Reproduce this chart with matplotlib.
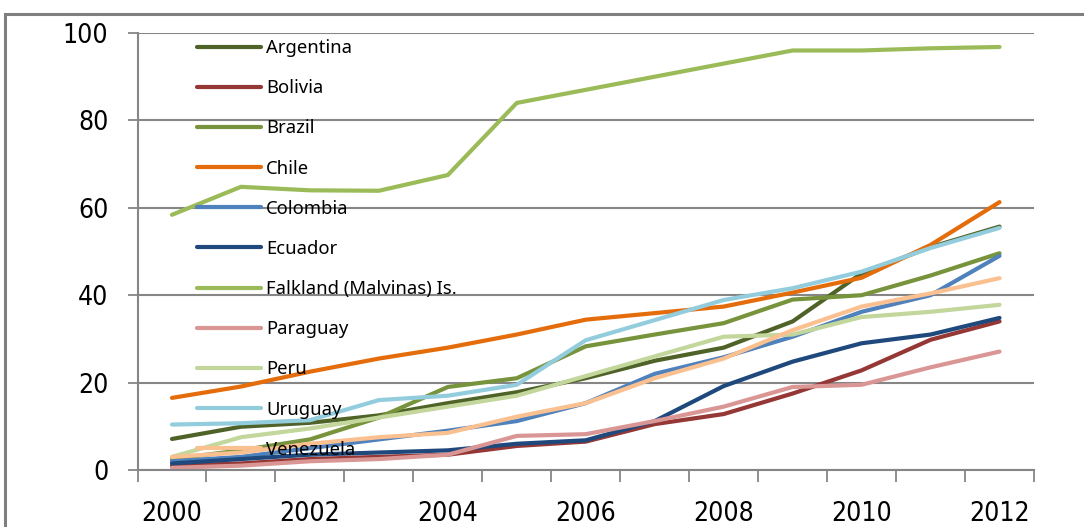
import matplotlib
matplotlib.use("Agg")
import matplotlib.pyplot as plt
import numpy as np
from matplotlib.patches import Rectangle

years = list(range(2000, 2013))

argentina = [7.1, 9.9, 10.8, 12.5, 15.3, 17.8, 21.0, 25.0, 28.0, 34.0, 45.0, 51.0, 55.7]
bolivia = [1.0, 1.5, 2.5, 3.0, 3.5, 5.5, 6.5, 10.5, 12.8, 17.5, 22.8, 29.8, 34.0]
brazil = [2.5, 4.5, 7.0, 12.0, 19.0, 21.0, 28.3, 31.0, 33.6, 39.0, 40.0, 44.5, 49.6]
chile = [16.5, 19.1, 22.5, 25.5, 28.0, 31.0, 34.4, 35.9, 37.4, 40.6, 44.0, 51.5, 61.3]
colombia = [2.0, 3.0, 5.0, 7.0, 9.0, 11.2, 15.3, 22.0, 25.8, 30.5, 36.2, 40.0, 49.0]
ecuador = [1.5, 2.5, 3.5, 4.0, 4.5, 6.0, 6.8, 11.2, 19.2, 24.8, 29.0, 31.0, 34.8]
falkland = [58.4, 64.8, 64.0, 63.9, 67.5, 84.0, 87.0, 90.0, 93.0, 96.0, 96.0, 96.5, 96.8]
paraguay = [0.5, 1.0, 2.0, 2.5, 3.5, 7.8, 8.2, 11.2, 14.5, 19.0, 19.5, 23.5, 27.1]
peru = [3.0, 7.5, 9.5, 12.0, 14.5, 17.0, 21.5, 26.0, 30.5, 31.0, 35.0, 36.2, 37.8]
uruguay = [10.4, 10.7, 11.4, 16.0, 17.0, 19.5, 29.7, 34.3, 38.9, 41.6, 45.4, 50.8, 55.4]
venezuela = [3.0, 4.0, 6.0, 7.5, 8.5, 12.2, 15.3, 21.0, 25.5, 32.0, 37.4, 40.4, 43.9]

series = [
    ("Argentina", argentina, "#4F6228"),
    ("Bolivia", bolivia, "#953735"),
    ("Brazil", brazil, "#77933C"),
    ("Chile", chile, "#E46C0A"),
    ("Colombia", colombia, "#4F81BD"),
    ("Ecuador", ecuador, "#1F497D"),
    ("Falkland (Malvinas) Is.", falkland, "#9BBB59"),
    ("Paraguay", paraguay, "#D99694"),
    ("Peru", peru, "#C3D69B"),
    ("Uruguay", uruguay, "#93CDDD"),
    ("Venezuela", venezuela, "#FAC090"),
]

W, H = 1084, 527
fig = plt.figure(figsize=(W / 100, H / 100), dpi=100)
ax = fig.add_axes([137.5 / W, 1 - 470 / H, 896.5 / W, 437 / H])

x = np.arange(len(years))
for name, vals, color in series:
    ax.plot(x, vals, color=color, lw=3.0, label=name, solid_capstyle="round")

grid_c = "#868686"
ax.set_xlim(-0.5, len(years) - 0.5)
ax.set_ylim(0, 100)
ax.set_yticks(range(0, 101, 20))
ax.grid(axis="y", color=grid_c, lw=1.5)
ax.set_axisbelow(True)

# category labels sit between the tick marks
ax.set_xticks(x[::2])
ax.set_xticklabels([str(y) for y in years[::2]])
ax.set_xticks(np.arange(-0.5, len(years)), minor=True)
ax.tick_params(axis="x", which="major", length=0, pad=22)
ax.tick_params(axis="x", which="minor", length=8.5, width=1.3, color=grid_c, direction="out")
ax.tick_params(axis="y", length=7, width=1.3, color=grid_c, pad=14)

for lbl in ax.get_xticklabels() + ax.get_yticklabels():
    lbl.set_fontfamily("DejaVu Sans")
    lbl.set_fontstretch("condensed")
    lbl.set_fontsize(19)

for side in ("top", "right"):
    ax.spines[side].set_visible(False)
for side in ("left", "bottom"):
    ax.spines[side].set_color(grid_c)
    ax.spines[side].set_linewidth(1.5)

leg = ax.legend(
    loc="upper left",
    bbox_to_anchor=(197 / W, 1 - 39 / H),
    bbox_transform=fig.transFigure,
    frameon=False,
    prop={"family": "Noto Sans", "size": 13.3},
    handlelength=3.45,
    handletextpad=0.3,
    labelspacing=1.2,
    borderpad=0,
    borderaxespad=0,
)
for h in leg.get_lines():
    h.set_linewidth(3.0)

# outer chart frame
fig.add_artist(Rectangle((5 / W, -0.05), 1.1, 1 - 14 / H + 0.05,
                         transform=fig.transFigure, fill=False,
                         edgecolor="#7F7F7F", lw=2.2))

fig.savefig("out.png", dpi=100)
